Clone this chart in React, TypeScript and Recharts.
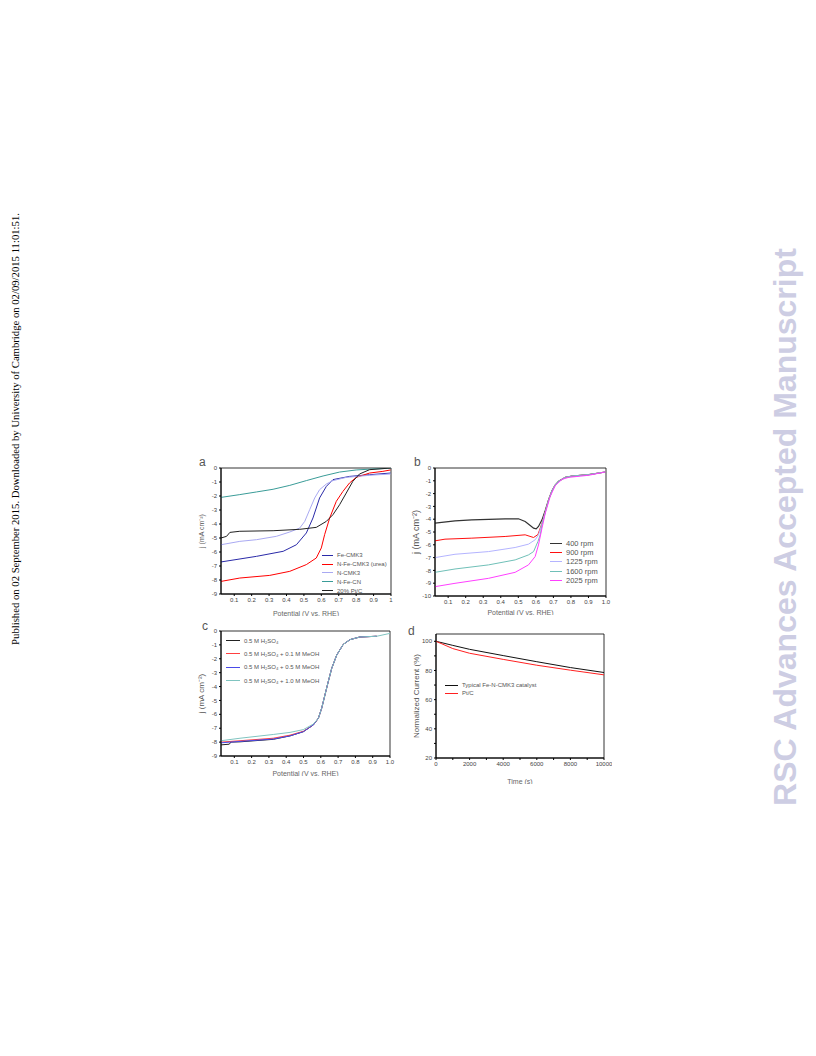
import { Legend, Line, LineChart, ReferenceArea, XAxis, YAxis } from "recharts"

const FONT = '"Liberation Sans", Arial, sans-serif'

// ---- panel a: ORR polarisation curves of the catalysts ----
const aFeCmk3V = [0.024, 0.228, 0.381, 0.457, 0.514, 0.552, 0.59, 0.629, 0.667, 0.762, 0.877, 0.997]
const aFeCmk3J = [-6.71, -6.31, -5.95, -5.48, -4.64, -3.57, -2.14, -1.31, -0.83, -0.6, -0.48, -0.36]
const aNFeCmk3V = [0.024, 0.132, 0.304, 0.419, 0.514, 0.571, 0.6, 0.619, 0.648, 0.686, 0.724, 0.762, 0.8, 0.877, 0.953, 0.997]
const aNFeCmk3J = [-8.1, -7.86, -7.67, -7.38, -6.9, -6.43, -5.71, -4.76, -3.57, -2.38, -1.67, -1.07, -0.67, -0.36, -0.24, -0.14]
const aNCmk3V = [0.024, 0.132, 0.228, 0.342, 0.419, 0.476, 0.505, 0.533, 0.562, 0.59, 0.629, 0.667, 0.743, 0.877, 0.997]
const aNCmk3J = [-5.48, -5.24, -5.12, -4.88, -4.57, -4.29, -3.81, -2.98, -2.14, -1.55, -1.14, -0.9, -0.67, -0.52, -0.43]
const aNFeCnV = [0.024, 0.132, 0.228, 0.323, 0.419, 0.514, 0.61, 0.705, 0.8, 0.896, 0.997]
const aNFeCnJ = [-2.1, -1.9, -1.71, -1.52, -1.24, -0.9, -0.57, -0.29, -0.14, -0.07, -0.02]
const aPtCV = [0.024, 0.056, 0.075, 0.132, 0.323, 0.476, 0.571, 0.629, 0.667, 0.705, 0.743, 0.781, 0.819, 0.877, 0.997]
const aPtCJ = [-5.0, -4.88, -4.6, -4.52, -4.48, -4.38, -4.24, -3.81, -3.33, -2.62, -1.79, -0.95, -0.43, -0.12, 0]

// ---- panel b: rotation rates ----
const b400V = [0.025, 0.139, 0.235, 0.425, 0.501, 0.539, 0.568, 0.587, 0.602, 0.615, 0.635, 0.654, 0.673, 0.692, 0.711, 0.73, 0.768, 0.806, 0.901, 0.996]
const b400J = [-4.31, -4.13, -4.05, -3.97, -3.97, -4.18, -4.49, -4.7, -4.75, -4.57, -4.05, -3.3, -2.45, -1.78, -1.31, -1.04, -0.73, -0.63, -0.52, -0.31]
const b900V = [0.025, 0.082, 0.235, 0.425, 0.539, 0.587, 0.612, 0.635, 0.654, 0.673, 0.692, 0.711, 0.73, 0.768, 0.806, 0.901, 0.996]
const b900J = [-5.69, -5.56, -5.48, -5.35, -5.22, -5.43, -5.2, -4.31, -3.4, -2.48, -1.78, -1.31, -1.04, -0.73, -0.63, -0.52, -0.31]
const b1225V = [0.025, 0.139, 0.33, 0.482, 0.558, 0.596, 0.615, 0.635, 0.654, 0.673, 0.692, 0.711, 0.73, 0.768, 0.806, 0.901, 0.996]
const b1225J = [-7.0, -6.74, -6.53, -6.21, -5.95, -5.61, -5.22, -4.35, -3.42, -2.48, -1.78, -1.31, -1.04, -0.73, -0.63, -0.52, -0.31]
const b1600V = [0.025, 0.139, 0.33, 0.482, 0.558, 0.587, 0.612, 0.625, 0.635, 0.654, 0.673, 0.692, 0.711, 0.73, 0.768, 0.806, 0.901, 0.996]
const b1600J = [-8.15, -7.89, -7.57, -7.18, -6.79, -6.53, -5.74, -5.22, -4.44, -3.45, -2.5, -1.78, -1.31, -1.04, -0.73, -0.63, -0.52, -0.31]
const b2025V = [0.025, 0.139, 0.33, 0.482, 0.558, 0.596, 0.615, 0.635, 0.654, 0.682, 0.711, 0.749, 0.787, 0.901, 0.996]
const b2025J = [-9.27, -9.01, -8.62, -8.15, -7.57, -6.92, -6.01, -4.7, -3.52, -2.22, -1.36, -0.89, -0.73, -0.57, -0.31]

// ---- panel c: methanol tolerance ----
const cBlankV = [0.023, 0.071, 0.08, 0.133, 0.325, 0.422, 0.499, 0.557, 0.586, 0.605, 0.624, 0.643, 0.663, 0.692, 0.73, 0.769, 0.826, 0.923]
const cBlankJ = [-8.2, -8.15, -8.0, -7.98, -7.8, -7.55, -7.25, -6.76, -6.28, -5.56, -4.6, -3.65, -2.69, -1.73, -0.96, -0.62, -0.43, -0.38]
const cMeoh01V = [0.023, 0.133, 0.325, 0.422, 0.499, 0.557, 0.586, 0.605, 0.624, 0.643, 0.663, 0.692, 0.73, 0.769, 0.826, 0.923]
const cMeoh01J = [-8.0, -7.9, -7.72, -7.5, -7.22, -6.76, -6.28, -5.56, -4.6, -3.65, -2.69, -1.73, -0.96, -0.62, -0.43, -0.38]
const cMeoh05V = [0.023, 0.133, 0.325, 0.422, 0.499, 0.557, 0.586, 0.605, 0.624, 0.643, 0.663, 0.692, 0.73, 0.769, 0.826, 0.923]
const cMeoh05J = [-8.05, -7.95, -7.78, -7.55, -7.25, -6.76, -6.28, -5.56, -4.6, -3.65, -2.69, -1.73, -0.96, -0.62, -0.43, -0.38]
const cMeoh10V = [0.023, 0.133, 0.325, 0.422, 0.499, 0.557, 0.586, 0.605, 0.624, 0.643, 0.663, 0.692, 0.73, 0.769, 0.826, 0.923, 1.0]
const cMeoh10J = [-7.9, -7.72, -7.45, -7.3, -7.1, -6.7, -6.28, -5.56, -4.6, -3.65, -2.69, -1.73, -0.96, -0.62, -0.43, -0.38, -0.17]

// ---- panel d: chronoamperometric stability ----
const dTime = [0, 1000, 2000, 4000, 6000, 8000, 10000]
const dCatalyst = [100, 97.2, 94.5, 90.2, 86.0, 82.0, 78.6]
const dPtC = [100, 95.0, 91.8, 87.6, 83.6, 80.2, 77.0]

// ---- axes ----
const potTicks = [0.1, 0.2, 0.3, 0.4, 0.5, 0.6, 0.7, 0.8, 0.9, 1.0]
const jTicksA = [0, -1, -2, -3, -4, -5, -6, -7, -8, -9]
const jTicksB = [0, -1, -2, -3, -4, -5, -6, -7, -8, -9, -10]
const jTicksC = [0, -1, -2, -3, -4, -5, -6, -7, -8, -9]
const timeTicks = [0, 1000, 2000, 3000, 4000, 5000, 6000, 7000, 8000, 9000, 10000]
const pctTicks = [20, 30, 40, 50, 60, 70, 80, 90, 100]

type Series = { name: string; color: string; x: number[]; y: number[]; width?: number }

type PanelProps = {
  left: number
  top: number
  w: number
  h: number
  yw: number
  xh: number
  xDomain: [number, number]
  yDomain: [number, number]
  xTicks: number[]
  yTicks: number[]
  xFmt: (v: number) => string
  yFmt?: (v: number) => string
  xTitle: string
  yTitle: string
  yTitleDx: number
  yTitleSize: number
  series: Series[]
  legLeft: number
  legTop: number
  legFont: number
  legRow: number
  legLine: number
}

const zip = (s: Series) => s.x.map((x, i) => ({ x, y: s.y[i] }))

// legend keeps the order of the series, not the alphabetical one
function legendContent(series: Series[], font: number, row: number, lineLen: number) {
  return () => (
    <div style={{ fontFamily: FONT, fontSize: font, color: "#555" }}>
      {series.map((s) => (
        <div key={s.name} style={{ display: "flex", alignItems: "center", height: row }}>
          <span style={{ width: lineLen, borderTop: `${s.width ?? 1}px solid ${s.color}`, marginRight: 4 }} />
          <span style={{ whiteSpace: "nowrap" }}>{s.name}</span>
        </div>
      ))}
    </div>
  )
}

function Panel(p: PanelProps) {
  const padT = 4
  const padR = 8
  const cw = p.yw + p.w + padR
  const ch = padT + p.h + p.xh
  const ox = p.left - p.yw
  const oy = p.top - padT
  const tick = { fontSize: 6, fill: "#444" }
  return (
    <div style={{ position: "absolute", left: ox, top: oy, fontFamily: FONT }}>
      <LineChart width={cw} height={ch} margin={{ top: padT, right: padR, left: 0, bottom: 0 }}>
        <XAxis
          type="number"
          dataKey="x"
          domain={p.xDomain}
          ticks={p.xTicks}
          interval={0}
          allowDataOverflow
          tickFormatter={p.xFmt}
          height={p.xh}
          tick={tick}
          tickSize={2}
          stroke="#000"
          label={{ value: p.xTitle, position: "insideBottom", offset: 0, fontSize: 7, fill: "#666" }}
        />
        <YAxis
          type="number"
          domain={p.yDomain}
          ticks={p.yTicks}
          interval={0}
          allowDataOverflow
          tickFormatter={p.yFmt}
          width={p.yw}
          tick={tick}
          tickSize={2}
          stroke="#000"
          label={{ value: p.yTitle, angle: -90, position: "center", dx: p.yTitleDx, fontSize: p.yTitleSize, fill: "#555" }}
        />
        <ReferenceArea x1={p.xDomain[0]} x2={p.xDomain[1]} y1={p.yDomain[0]} y2={p.yDomain[1]} fill="none" stroke="#000" strokeWidth={0.8} />
        {p.series.map((s) => (
          <Line
            key={s.name}
            data={zip(s)}
            dataKey="y"
            name={s.name}
            stroke={s.color}
            strokeWidth={s.width ?? 1}
            dot={false}
            isAnimationActive={false}
          />
        ))}
        <Legend
          layout="vertical"
          align="center"
          verticalAlign="middle"
          wrapperStyle={{ left: p.legLeft - ox, top: p.legTop - oy, width: "auto" }}
          content={legendContent(p.series, p.legFont, p.legRow, p.legLine)}
        />
      </LineChart>
    </div>
  )
}

const fmt1 = (v: number) => v.toFixed(1)
const fmtA = (v: number) => (v === 1 ? "1" : v.toFixed(1))

const letter = (t: string, x: number, y: number) => (
  <div style={{ position: "absolute", left: x, top: y, fontFamily: FONT, fontSize: 12, color: "#555", lineHeight: "12px" }}>{t}</div>
)

export default function App() {
  return (
    <div style={{ position: "absolute", left: 0, top: 0, width: 816, height: 1056, background: "#fff", overflow: "hidden" }}>
      <div
        style={{
          position: "absolute",
          left: 15 - 240,
          top: 429 - 6,
          width: 480,
          height: 12,
          lineHeight: "12px",
          textAlign: "center",
          whiteSpace: "nowrap",
          fontFamily: '"Liberation Serif", "Times New Roman", serif',
          fontSize: 10.7,
          color: "#000",
          transform: "rotate(-90deg)",
        }}
      >
        Published on 02 September 2015. Downloaded by University of Cambridge on 02/09/2015 11:01:51.
      </div>
      <div
        style={{
          position: "absolute",
          left: 785 - 300,
          top: 527 - 18,
          width: 600,
          height: 36,
          lineHeight: "36px",
          textAlign: "center",
          whiteSpace: "nowrap",
          fontFamily: FONT,
          fontWeight: "bold",
          fontSize: 32,
          color: "#cdcde3",
          transform: "rotate(-90deg)",
        }}
      >
        RSC Advances Accepted Manuscript
      </div>

      {letter("a", 199, 456)}
      {letter("b", 414, 456)}
      {letter("c", 202, 620)}
      {letter("d", 408, 625)}

      <Panel
        left={221}
        top={468}
        w={170}
        h={126}
        yw={24}
        xh={22}
        xDomain={[0.024, 1]}
        yDomain={[-9, 0]}
        xTicks={potTicks}
        yTicks={jTicksA}
        xFmt={fmtA}
        xTitle="Potential (V vs. RHE)"
        yTitle="j (mA cm⁻²)"
        yTitleDx={-7}
        yTitleSize={7}
        series={[
          { name: "Fe-CMK3", color: "#2a2aa8", x: aFeCmk3V, y: aFeCmk3J },
          { name: "N-Fe-CMK3 (urea)", color: "#ff0000", x: aNFeCmk3V, y: aNFeCmk3J },
          { name: "N-CMK3", color: "#a9a9f2", x: aNCmk3V, y: aNCmk3J },
          { name: "N-Fe-CN", color: "#3a9c98", x: aNFeCnV, y: aNFeCnJ },
          { name: "20% Pt/C", color: "#222222", x: aPtCV, y: aPtCJ },
        ]}
        legLeft={322}
        legTop={551}
        legFont={6}
        legRow={8.8}
        legLine={11}
      />

      <Panel
        left={435}
        top={468}
        w={171}
        h={128}
        yw={24}
        xh={19}
        xDomain={[0.025, 1]}
        yDomain={[-10, 0]}
        xTicks={potTicks}
        yTicks={jTicksB}
        xFmt={fmt1}
        xTitle="Potential (V vs. RHE)"
        yTitle="j (mA cm⁻²)"
        yTitleDx={-7}
        yTitleSize={9}
        series={[
          { name: "400 rpm", color: "#333333", x: b400V, y: b400J, width: 1.2 },
          { name: "900 rpm", color: "#ff1010", x: b900V, y: b900J },
          { name: "1225 rpm", color: "#b4b4ff", x: b1225V, y: b1225J },
          { name: "1600 rpm", color: "#70c0b8", x: b1600V, y: b1600J },
          { name: "2025 rpm", color: "#ff40ff", x: b2025V, y: b2025J },
        ]}
        legLeft={550}
        legTop={539}
        legFont={7.5}
        legRow={9.2}
        legLine={12}
      />

      <Panel
        left={221}
        top={631}
        w={169}
        h={125}
        yw={24}
        xh={20}
        xDomain={[0.023, 1]}
        yDomain={[-9, 0]}
        xTicks={potTicks}
        yTicks={jTicksC}
        xFmt={fmt1}
        xTitle="Potential (V vs. RHE)"
        yTitle="j (mA cm⁻²)"
        yTitleDx={-8}
        yTitleSize={8}
        series={[
          { name: "0.5 M H₂SO₄", color: "#222222", x: cBlankV, y: cBlankJ },
          { name: "0.5 M H₂SO₄ + 0.1 M MeOH", color: "#ff4040", x: cMeoh01V, y: cMeoh01J },
          { name: "0.5 M H₂SO₄ + 0.5 M MeOH", color: "#4a4ae8", x: cMeoh05V, y: cMeoh05J },
          { name: "0.5 M H₂SO₄ + 1.0 M MeOH", color: "#80c4c0", x: cMeoh10V, y: cMeoh10J },
        ]}
        legLeft={226}
        legTop={634}
        legFont={6}
        legRow={13.3}
        legLine={14}
      />

      <Panel
        left={436}
        top={634}
        w={168}
        h={124}
        yw={24}
        xh={26}
        xDomain={[0, 10000]}
        yDomain={[20, 105]}
        xTicks={timeTicks}
        yTicks={pctTicks}
        xFmt={(v) => (v % 2000 === 0 ? String(v) : "")}
        yFmt={(v) => (v % 20 === 0 ? String(v) : "")}
        xTitle="Time (s)"
        yTitle="Normalized Current (%)"
        yTitleDx={-8}
        yTitleSize={8}
        series={[
          { name: "Typical Fe-N-CMK3 catalyst", color: "#111111", x: dTime, y: dCatalyst },
          { name: "Pt/C", color: "#ff2020", x: dTime, y: dPtC },
        ]}
        legLeft={445}
        legTop={681}
        legFont={6}
        legRow={8}
        legLine={13}
      />
    </div>
  )
}
